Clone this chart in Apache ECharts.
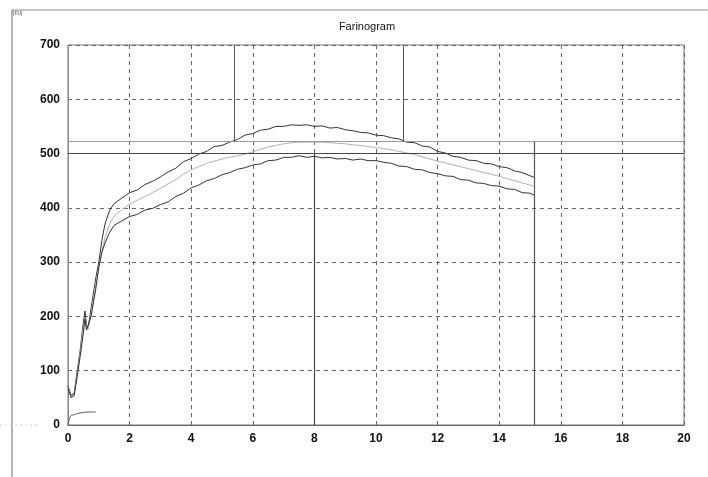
<!DOCTYPE html>
<html>
<head>
<meta charset="utf-8">
<script src="https://cdn.jsdelivr.net/npm/echarts@6/dist/echarts.min.js"></script>
<style>
  html, body { margin: 0; padding: 0; background: #fff; }
  #chart { width: 708px; height: 477px; }
</style>
</head>
<body>
<div id="chart"></div>
<script>
// time in minutes, consistency in FU
const upperT = [0, 0.1, 0.2, 0.3, 0.4, 0.5, 0.55, 0.6, 0.65, 0.75, 0.9, 1.0, 1.1, 1.2, 1.35, 1.5, 1.75, 2.0, 2.25, 2.5, 2.75, 3.0, 3.25, 3.5, 3.75, 4.0, 4.25, 4.5, 4.75, 5.0, 5.25, 5.5, 5.75, 6.0, 6.25, 6.5, 6.75, 7.0, 7.25, 7.5, 7.75, 8.0, 8.25, 8.5, 8.75, 9.0, 9.25, 9.5, 9.75, 10.0, 10.25, 10.5, 10.75, 11.0, 11.25, 11.5, 11.75, 12.0, 12.25, 12.5, 12.75, 13.0, 13.25, 13.5, 13.75, 14.0, 14.25, 14.5, 14.75, 15.0, 15.15];
const upperV = [72, 55, 58, 100, 140, 190, 210, 185, 178, 215, 270, 300, 340, 370, 395, 408, 418, 428, 433, 443, 449, 457, 466, 473, 485, 491, 499, 504, 513, 515, 521, 526, 534, 537, 543, 545, 550, 550, 553, 552, 553, 550, 551, 547, 548, 544, 542, 539, 538, 534, 533, 529, 527, 521, 520, 514, 512, 504, 501, 495, 493, 488, 487, 482, 481, 476, 474, 468, 465, 459, 456];
const middleV = [70, 52, 56, 95, 135, 180, 196, 182, 176, 205, 258, 290, 320, 345, 370, 385, 397, 407, 414, 421, 428, 436, 444, 452, 462, 470, 476, 482, 486, 490, 493, 496, 499, 503, 508, 512, 515, 518, 520, 521, 521, 521, 521, 520, 519, 518, 516, 515, 513, 511, 509, 507, 504, 501, 498, 494, 490, 486, 483, 479, 476, 472, 469, 465, 462, 458, 454, 450, 446, 442, 439];
const lowerV = [68, 50, 54, 90, 128, 170, 195, 175, 172, 200, 250, 290, 318, 335, 355, 368, 376, 384, 388, 396, 399, 406, 411, 421, 427, 437, 442, 450, 454, 461, 465, 471, 474, 479, 481, 487, 488, 493, 493, 496, 493, 495, 492, 493, 490, 491, 488, 490, 487, 487, 484, 482, 477, 476, 471, 470, 465, 463, 459, 458, 452, 451, 446, 445, 441, 440, 435, 434, 428, 427, 423];
const tempT = [0, 0.05, 0.1, 0.2, 0.3, 0.5, 0.7, 0.9];
const tempV = [0, 12, 17, 19, 21, 23, 24, 24];

const levelLines = [500, 522];          // horizontal reference levels
const timeMarks = [5.4, 8.0, 10.9, 15.15]; // vertical markers
const xTicks = [0, 2, 4, 6, 8, 10, 12, 14, 16, 18, 20];
const yTicks = [0, 100, 200, 300, 400, 500, 600, 700];

const zip = (t, v) => t.map((x, i) => [x, v[i]]);

const chart = echarts.init(document.getElementById("chart"));
const labelStyle = { color: "#111", fontSize: 12, fontWeight: "bold", fontFamily: "Liberation Sans, Arial, sans-serif" };

const option = {
  animation: false,
  backgroundColor: "#fff",
  title: {
    text: "Farinogram",
    left: 362,
    top: 16,
    textAlign: "center",
    textStyle: { fontSize: 11, fontWeight: "normal", color: "#111", fontFamily: "Liberation Sans, Arial, sans-serif" },
  },
  grid: {
    left: 68,
    right: 24,
    top: 45,
    bottom: 52,
    show: true,
    borderColor: "#777",
    borderWidth: 1,
  },
  xAxis: {
    type: "value",
    min: xTicks[0],
    max: xTicks[xTicks.length - 1],
    interval: 2,
    axisLine: { lineStyle: { color: "#666" } },
    axisTick: { show: false },
    axisLabel: Object.assign({ margin: 8 }, labelStyle),
    splitLine: { lineStyle: { color: "#666", type: [4, 4] } },
  },
  yAxis: {
    type: "value",
    min: yTicks[0],
    max: yTicks[yTicks.length - 1],
    interval: 100,
    axisLine: { show: true, lineStyle: { color: "#888" } },
    axisTick: { show: false },
    axisLabel: Object.assign({ margin: 8 }, labelStyle),
    splitLine: { lineStyle: { color: "#666", type: [4, 4] } },
  },
  series: [
    {
      type: "line",
      data: zip(upperT, upperV),
      showSymbol: false,
      lineStyle: { color: "#333", width: 1 },
      markLine: {
        symbol: "none",
        silent: true,
        label: { show: false },
        data: [
          { yAxis: levelLines[0], lineStyle: { color: "#444", width: 1.2, type: "solid" } },
          { yAxis: levelLines[1], lineStyle: { color: "#999", width: 1, type: "solid" } },
          [{ coord: [timeMarks[0], 700], lineStyle: { color: "#555", width: 1, type: "solid" } }, { coord: [timeMarks[0], levelLines[1]] }],
          [{ coord: [timeMarks[1], levelLines[0]], lineStyle: { color: "#444", width: 1.2, type: "solid" } }, { coord: [timeMarks[1], 0] }],
          [{ coord: [timeMarks[2], 700], lineStyle: { color: "#555", width: 1, type: "solid" } }, { coord: [timeMarks[2], levelLines[1]] }],
          [{ coord: [timeMarks[3], levelLines[1]], lineStyle: { color: "#555", width: 1.2, type: "solid" } }, { coord: [timeMarks[3], 0] }],
        ],
      },
    },
    {
      type: "line",
      data: zip(upperT, middleV),
      showSymbol: false,
      lineStyle: { color: "#b0b0b0", width: 1 },
    },
    {
      type: "line",
      data: zip(upperT, lowerV),
      showSymbol: false,
      lineStyle: { color: "#333", width: 1 },
    },
    {
      type: "line",
      data: zip(tempT, tempV),
      showSymbol: false,
      smooth: true,
      lineStyle: { color: "#555", width: 1 },
    },
  ],
  graphic: [
    { type: "line", shape: { x1: 12, y1: 10, x2: 12, y2: 477 }, style: { stroke: "#666", lineWidth: 1 } },
    { type: "line", shape: { x1: 12, y1: 10, x2: 708, y2: 10 }, style: { stroke: "#888", lineWidth: 1 } },
    { type: "line", shape: { x1: 0, y1: 425, x2: 40, y2: 425 }, style: { stroke: "#ccc", lineWidth: 1, lineDash: [2, 3] } },
    { type: "text", left: 13, top: 11, style: { text: "[FU]", fontSize: 5, fill: "#444" } },
  ],
};

chart.setOption(option);
</script>
</body>
</html>
